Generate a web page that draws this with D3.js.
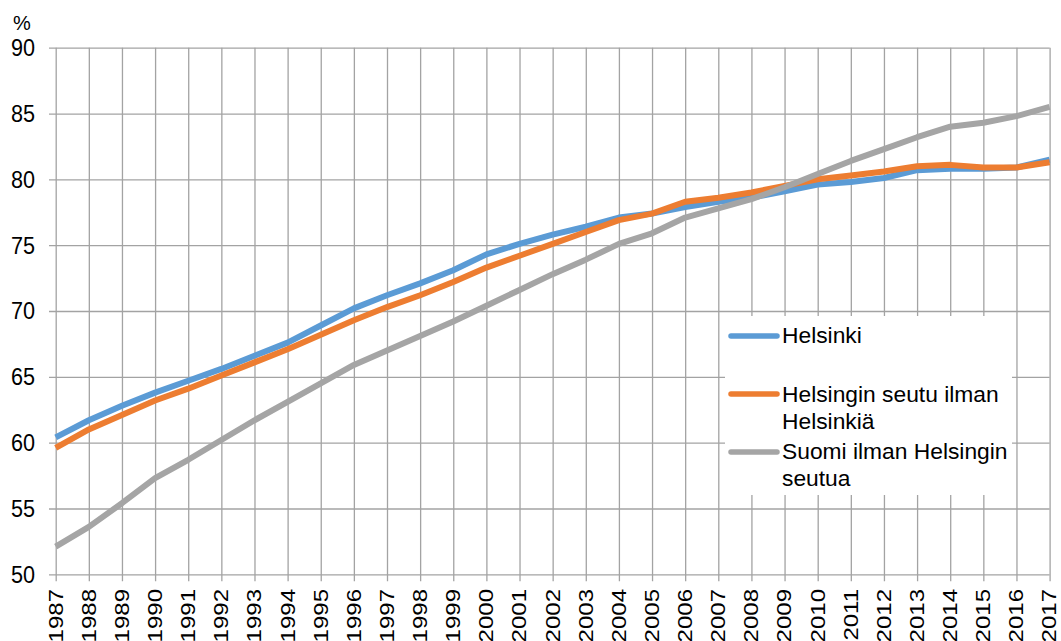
<!DOCTYPE html>
<html>
<head>
<meta charset="utf-8">
<script src="https://cdn.jsdelivr.net/npm/d3@7"></script>
<style>
  html, body { margin: 0; padding: 0; background: #fff; }
  svg { display: block; font-family: "Liberation Sans", Arial, sans-serif; }
</style>
</head>
<body>
<svg id="chart" width="1061" height="641"></svg>
<script>
const years = d3.range(1987, 2018);
const yTicks = [50, 55, 60, 65, 70, 75, 80, 85, 90];
const seriesNames = ["Helsinki", "Helsingin seutu ilman Helsinkiä", "Suomi ilman Helsingin seutua"];
const legendLabels = [["Helsinki"], ["Helsingin seutu ilman", "Helsinkiä"], ["Suomi ilman Helsingin", "seutua"]];
const helsinki = [60.4, 61.7, 62.8, 63.8, 64.7, 65.6, 66.6, 67.6, 68.9, 70.2, 71.2, 72.1, 73.1, 74.3, 75.1, 75.8, 76.4, 77.1, 77.4, 77.9, 78.3, 78.6, 79.1, 79.6, 79.8, 80.1, 80.7, 80.8, 80.8, 80.9, 81.5];
const seutu = [59.6, 61.0, 62.1, 63.2, 64.1, 65.1, 66.1, 67.1, 68.2, 69.3, 70.3, 71.2, 72.2, 73.3, 74.2, 75.1, 76.0, 76.9, 77.4, 78.3, 78.6, 79.0, 79.5, 80.0, 80.3, 80.6, 81.0, 81.1, 80.9, 80.9, 81.3];
const suomi = [52.1, 53.6, 55.4, 57.3, 58.7, 60.2, 61.7, 63.1, 64.5, 65.9, 67.0, 68.1, 69.2, 70.4, 71.6, 72.8, 73.9, 75.1, 75.9, 77.1, 77.8, 78.5, 79.4, 80.4, 81.4, 82.3, 83.2, 84.0, 84.3, 84.8, 85.5];
const colors = ["#5B9BD5", "#ED7D31", "#A5A5A5"];
const seriesValues = [helsinki, seutu, suomi];

const svg = d3.select("#chart");
const x = d3.scaleLinear().domain([1987, 2017]).range([55.7, 1049.6]);
const y = d3.scaleLinear().domain([50, 90]).range([574.3, 47.7]);
const gridColor = "#a3a3a3";

// horizontal grid
const gy = svg.append("g").attr("transform", `translate(${x.range()[1]},0)`);
gy.call(d3.axisLeft(y).tickValues(yTicks).tickSize(x.range()[1] - 49).tickFormat(""));
gy.select(".domain").remove();
gy.selectAll("line").attr("stroke", gridColor).attr("stroke-width", 1.3);

// y labels
svg.append("g").selectAll("text").data(yTicks).join("text")
  .attr("transform", d => `translate(35,${y(d)}) scale(0.9,1)`)
  .attr("text-anchor", "end").attr("dy", "0.35em")
  .attr("font-size", 24).attr("fill", "#000")
  .text(d => d);

// vertical grid
const gx = svg.append("g").attr("transform", `translate(0,${y(90)})`);
gx.call(d3.axisBottom(x).tickValues(years).tickSize(y(50) - y(90) + 7).tickFormat(""));
gx.select(".domain").remove();
gx.selectAll("line").attr("stroke", gridColor).attr("stroke-width", 1.3);

// x labels
svg.append("g").selectAll("text").data(years).join("text")
  .attr("transform", d => `translate(${x(d)},589) rotate(-90) scale(1,0.82)`)
  .attr("text-anchor", "end").attr("dy", "0.35em")
  .attr("font-size", 24).attr("fill", "#000")
  .text(d => d);

// % label
svg.append("text").attr("x", 13).attr("y", 30).attr("font-size", 20).attr("fill", "#000").text("%");

// lines
const line = d3.line().x((d, i) => x(years[i])).y(d => y(d));
seriesValues.forEach((vals, i) => {
  svg.append("path").datum(vals)
    .attr("d", line).attr("fill", "none")
    .attr("stroke", colors[i]).attr("stroke-width", 6)
    .attr("stroke-linejoin", "round");
});

// legend
const lg = svg.append("g");
lg.append("rect").attr("x", 725).attr("y", 316).attr("width", 287).attr("height", 179).attr("fill", "#fff");
const legY = [336, 394, 452];
const textY = [343, 402, 459];
legendLabels.forEach((lines, i) => {
  lg.append("line").attr("x1", 731).attr("x2", 777).attr("y1", legY[i]).attr("y2", legY[i])
    .attr("stroke", colors[i]).attr("stroke-width", 5.5).attr("stroke-linecap", "round");
  const t = lg.append("text").attr("x", 782).attr("y", textY[i]).attr("font-size", 22.8).attr("fill", "#000");
  lines.forEach((s, j) => {
    t.append("tspan").attr("x", 782).attr("y", textY[i] + j * 26.5).text(s);
  });
});
</script>
</body>
</html>
